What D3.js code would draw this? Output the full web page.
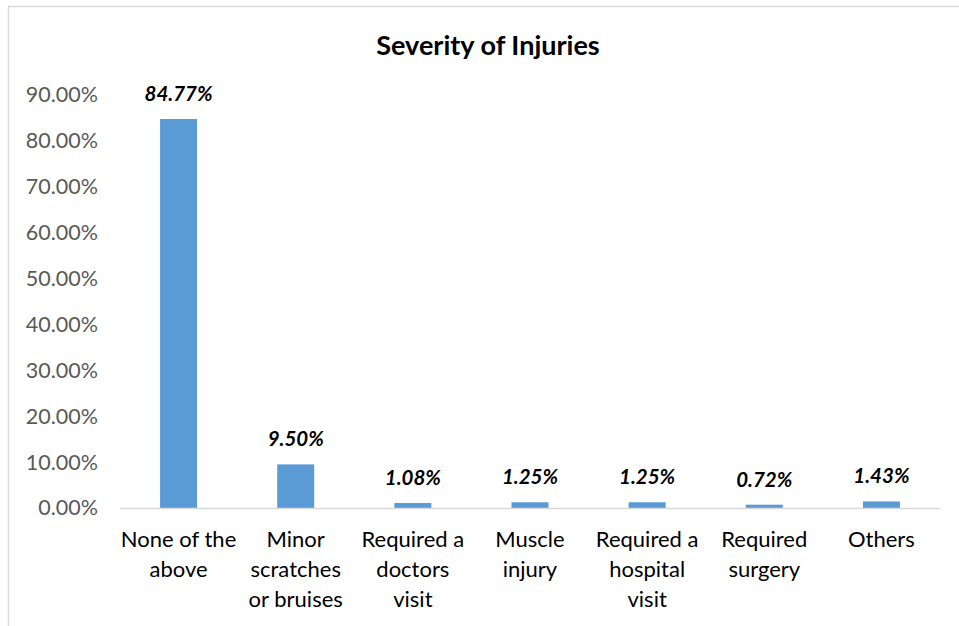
<!DOCTYPE html>
<html>
<head>
<meta charset="utf-8">
<script src="https://cdn.jsdelivr.net/npm/d3@7"></script>
<style>
  body { margin: 0; background: #fff; }
  text { font-family: Lato, "Open Sans", sans-serif; }
</style>
</head>
<body>
<svg id="chart" width="959" height="626"></svg>
<script>
const categories = [
  ['None of the', 'above'],
  ['Minor', 'scratches', 'or bruises'],
  ['Required a', 'doctors', 'visit'],
  ['Muscle', 'injury'],
  ['Required a', 'hospital', 'visit'],
  ['Required', 'surgery'],
  ['Others']
];
const values = [0.8477, 0.095, 0.0108, 0.0125, 0.0125, 0.0072, 0.0143];
const yTicks = [0, 0.1, 0.2, 0.3, 0.4, 0.5, 0.6, 0.7, 0.8, 0.9];

const svg = d3.select('#chart');

// outer chart border
svg.append('rect')
  .attr('x', 8.5).attr('y', 6.5)
  .attr('width', 980).attr('height', 660)
  .attr('fill', 'none')
  .attr('stroke', '#d9d9d9')
  .attr('stroke-width', 1.5);

svg.append('text')
  .attr('x', 488).attr('y', 55)
  .attr('text-anchor', 'middle')
  .attr('font-size', 27)
  .attr('font-weight', 'bold')
  .attr('fill', '#000')
  .text('Severity of Injuries');

const x = d3.scaleBand()
  .domain(d3.range(categories.length))
  .range([120, 940])
  .paddingInner(0.684)
  .paddingOuter(0.342);

const y = d3.scaleLinear().domain([0, 0.9]).range([508, 95]);

// y axis labels (no line, no ticks)
const yAxis = svg.append('g')
  .attr('transform', 'translate(98,0)')
  .call(d3.axisLeft(y).tickValues(yTicks).tickSize(0).tickPadding(0)
    .tickFormat(d => (d * 100).toFixed(2) + '%'));
yAxis.select('.domain').remove();
yAxis.selectAll('text')
  .attr('font-family', 'Lato, "Open Sans", sans-serif')
  .attr('font-size', 21.5)
  .attr('fill', '#595959');

// bars
svg.append('g').selectAll('rect')
  .data(values)
  .join('rect')
  .attr('x', (d, i) => x(i))
  .attr('y', d => y(d))
  .attr('width', x.bandwidth())
  .attr('height', d => y(0) - y(d))
  .attr('fill', '#5b9bd5');

// baseline
svg.append('line')
  .attr('x1', 120).attr('x2', 940)
  .attr('y1', y(0) + 0.5).attr('y2', y(0) + 0.5)
  .attr('stroke', '#d9d9d9')
  .attr('stroke-width', 1.5);

// data labels
svg.append('g').selectAll('text')
  .data(values)
  .join('text')
  .attr('x', (d, i) => x(i) + x.bandwidth() / 2)
  .attr('y', d => y(d) - 18)
  .attr('text-anchor', 'middle')
  .attr('font-size', 20.5)
  .attr('font-weight', 'bold')
  .attr('font-style', 'italic')
  .attr('fill', '#000')
  .text(d => (d * 100).toFixed(2) + '%');

// category labels
const cat = svg.append('g').selectAll('text')
  .data(categories)
  .join('text')
  .attr('x', (d, i) => x(i) + x.bandwidth() / 2)
  .attr('y', 547)
  .attr('text-anchor', 'middle')
  .attr('font-size', 22)
  .attr('fill', '#000');
cat.selectAll('tspan')
  .data(d => d)
  .join('tspan')
  .attr('x', function () { return this.parentNode.getAttribute('x'); })
  .attr('dy', (d, i) => i === 0 ? 0 : 30)
  .text(d => d);
</script>
</body>
</html>
